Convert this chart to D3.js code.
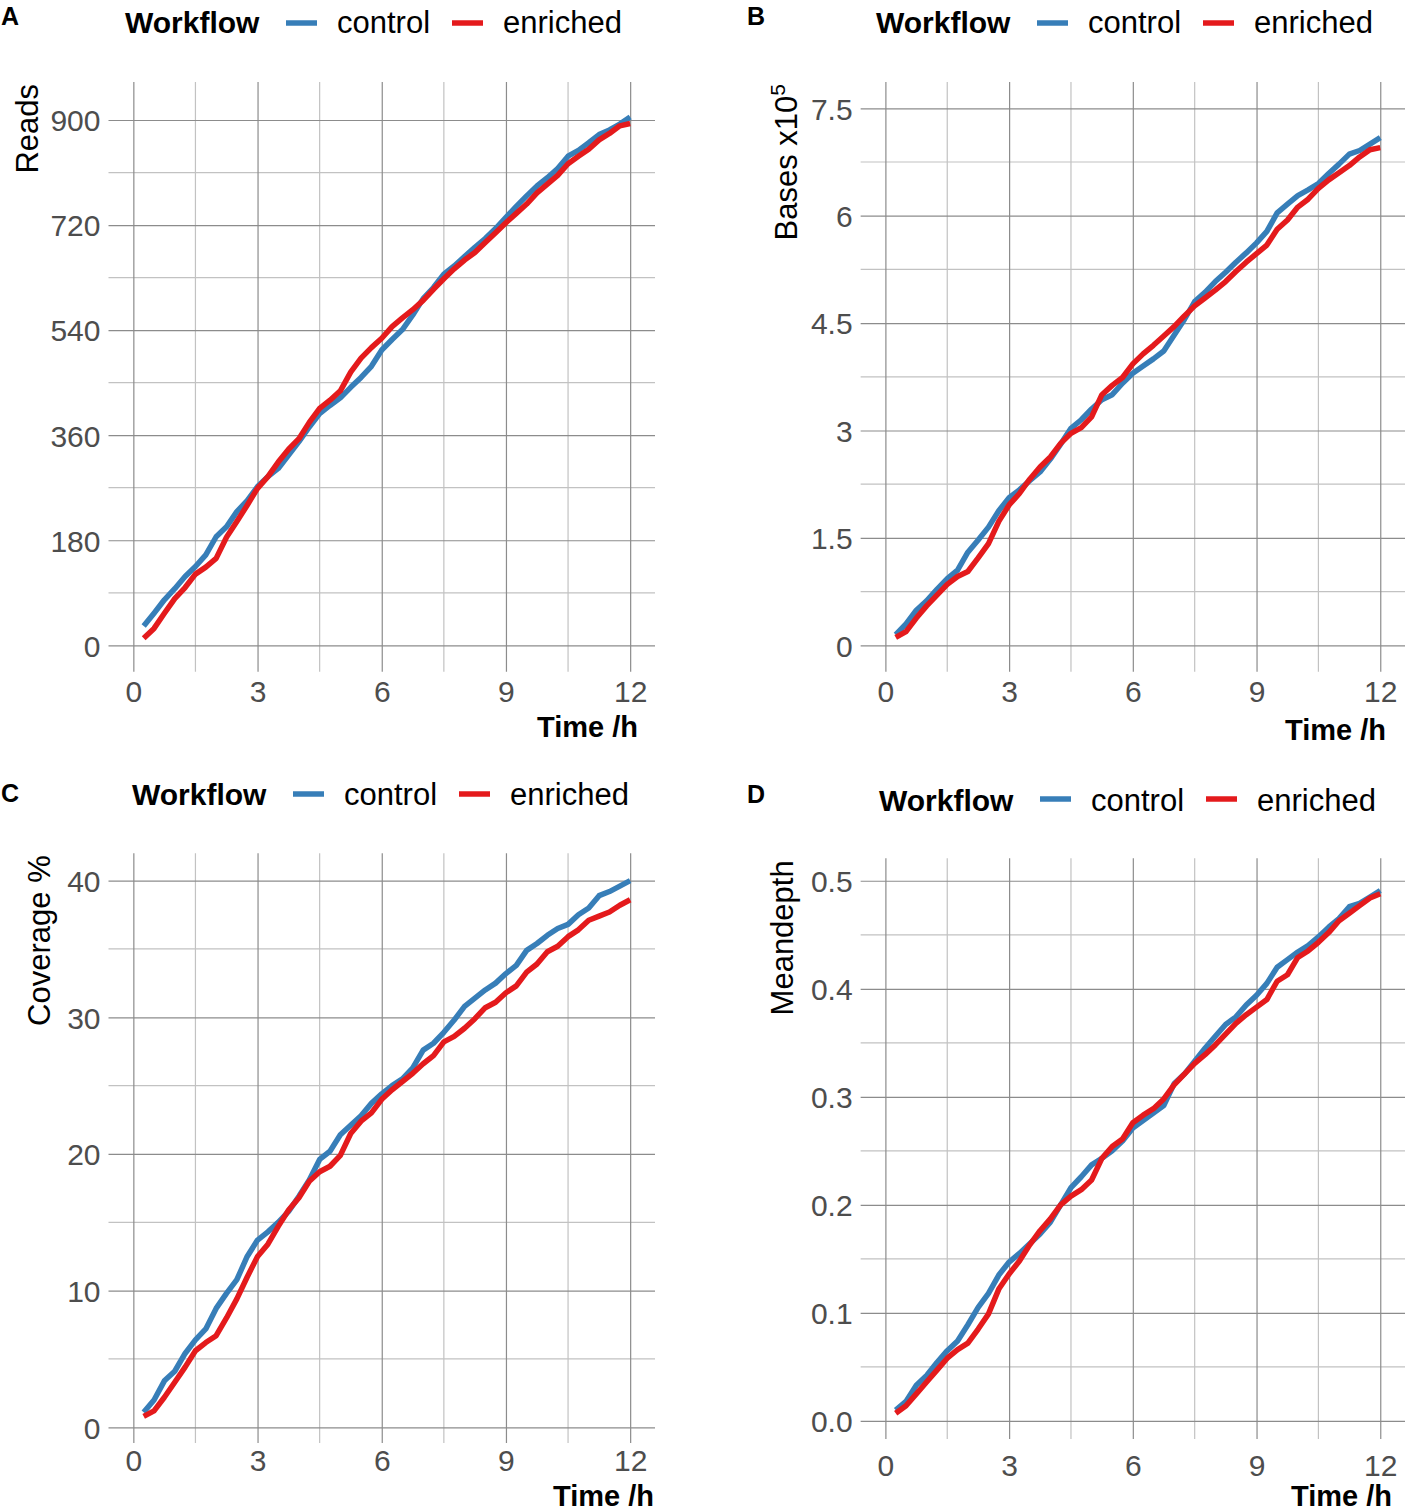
<!DOCTYPE html>
<html>
<head>
<meta charset="utf-8">
<script src="https://cdn.jsdelivr.net/npm/d3@7"></script>
<style>
  html, body { margin: 0; padding: 0; background: #fff; }
  svg { display: block; font-family: "Liberation Sans", Arial, Helvetica, sans-serif; }
  .tick text { fill: #4d4d4d; font-size: 30px; }
  .grid-major { stroke: #8c8c8c; stroke-width: 1.2; }
  .grid-minor { stroke: #c2c2c2; stroke-width: 1.2; }
  .series { fill: none; stroke-width: 5.5; stroke-linejoin: round; }
</style>
</head>
<body>
<svg id="chart" width="1409" height="1509"></svg>
<script>
// sampling times (h)
const times = [0.25, 0.5, 0.75, 1, 1.25, 1.5, 1.75, 2, 2.25, 2.5, 2.75, 3,
  3.25, 3.5, 3.75, 4, 4.25, 4.5, 4.75, 5, 5.25, 5.5, 5.75, 6,
  6.25, 6.5, 6.75, 7, 7.25, 7.5, 7.75, 8, 8.25, 8.5, 8.75, 9,
  9.25, 9.5, 9.75, 10, 10.25, 10.5, 10.75, 11, 11.25, 11.5, 11.75, 12]

const workflows = ['control', 'enriched']
const workflowColors = ['#377EB8', '#E41A1C']

// A: reads
const readsControl = [33, 55, 78, 97, 118, 135, 155, 186, 203, 229, 248, 272,
  289, 303, 326, 349, 374, 397, 411, 424, 442, 459, 478, 506,
  524, 541, 566, 594, 613, 636, 650, 666, 682, 697, 714, 733,
  752, 770, 787, 801, 817, 838, 848, 861, 875, 883, 893, 905]
const readsEnriched = [12, 29, 55, 80, 99, 122, 134, 149, 185, 212, 240, 269,
  289, 314, 336, 354, 382, 406, 420, 436, 468, 492, 510, 526,
  546, 561, 575, 591, 610, 628, 645, 660, 673, 690, 707, 724,
  740, 756, 775, 790, 805, 825, 838, 850, 866, 877, 890, 894]

// B: bases x10^5
const basesControl = [0.15, 0.30, 0.49, 0.62, 0.78, 0.93, 1.05, 1.30, 1.47, 1.65, 1.88, 2.06,
  2.17, 2.30, 2.42, 2.60, 2.81, 3.03, 3.15, 3.30, 3.43, 3.50, 3.66, 3.80,
  3.90, 4.00, 4.11, 4.33, 4.55, 4.80, 4.93, 5.08, 5.21, 5.35, 5.48, 5.62,
  5.78, 6.04, 6.16, 6.28, 6.36, 6.45, 6.59, 6.72, 6.86, 6.91, 7.00, 7.09]
const basesEnriched = [0.11, 0.19, 0.38, 0.55, 0.70, 0.85, 0.96, 1.03, 1.22, 1.42, 1.73, 1.96,
  2.12, 2.32, 2.49, 2.63, 2.82, 2.96, 3.04, 3.19, 3.50, 3.63, 3.74, 3.93,
  4.07, 4.19, 4.32, 4.45, 4.60, 4.74, 4.85, 4.96, 5.08, 5.22, 5.35, 5.47,
  5.59, 5.81, 5.94, 6.12, 6.23, 6.38, 6.50, 6.60, 6.70, 6.82, 6.92, 6.95]

// C: coverage %
const coverageControl = [1.1, 2.0, 3.4, 4.1, 5.4, 6.4, 7.2, 8.7, 9.8, 10.8, 12.5, 13.7,
  14.3, 15.0, 15.8, 16.9, 18.1, 19.6, 20.2, 21.4, 22.1, 22.8, 23.7, 24.4,
  25.0, 25.5, 26.3, 27.6, 28.1, 28.9, 29.8, 30.8, 31.4, 32.0, 32.5, 33.2,
  33.8, 34.9, 35.4, 36.0, 36.5, 36.8, 37.5, 38.0, 38.9, 39.2, 39.6, 40.0]
const coverageEnriched = [0.8, 1.2, 2.2, 3.3, 4.4, 5.6, 6.2, 6.7, 8.0, 9.4, 11.0, 12.5,
  13.4, 14.7, 15.9, 16.8, 18.0, 18.7, 19.1, 19.9, 21.5, 22.4, 23.0, 24.0,
  24.7, 25.3, 25.9, 26.6, 27.2, 28.2, 28.6, 29.2, 29.9, 30.7, 31.1, 31.8,
  32.3, 33.3, 33.9, 34.8, 35.2, 35.9, 36.4, 37.1, 37.4, 37.7, 38.2, 38.6]

// D: mean depth
const depthControl = [0.010, 0.018, 0.033, 0.042, 0.054, 0.065, 0.074, 0.089, 0.105, 0.118, 0.135, 0.147,
  0.155, 0.164, 0.173, 0.184, 0.200, 0.216, 0.226, 0.237, 0.243, 0.250, 0.259, 0.271,
  0.278, 0.285, 0.292, 0.312, 0.321, 0.333, 0.345, 0.356, 0.367, 0.374, 0.385, 0.394,
  0.405, 0.420, 0.427, 0.434, 0.440, 0.448, 0.457, 0.465, 0.476, 0.479, 0.485, 0.491]
const depthEnriched = [0.007, 0.014, 0.025, 0.036, 0.047, 0.058, 0.066, 0.072, 0.085, 0.099, 0.122, 0.136,
  0.148, 0.163, 0.176, 0.187, 0.200, 0.208, 0.214, 0.223, 0.243, 0.254, 0.261, 0.276,
  0.283, 0.289, 0.298, 0.311, 0.321, 0.331, 0.339, 0.348, 0.358, 0.368, 0.376, 0.383,
  0.390, 0.407, 0.413, 0.429, 0.435, 0.443, 0.452, 0.463, 0.470, 0.477, 0.484, 0.488]

// ticks
const timeTicks = [0, 3, 6, 9, 12]
const timeMinor = [1.5, 4.5, 7.5, 10.5]
const readsTicks = [0, 180, 360, 540, 720, 900]
const readsMinor = [90, 270, 450, 630, 810]
const basesTicks = [0, 1.5, 3, 4.5, 6, 7.5]
const basesMinor = [0.75, 2.25, 3.75, 5.25, 6.75]
const coverageTicks = [0, 10, 20, 30, 40]
const coverageMinor = [5, 15, 25, 35]
const depthTicks = [0, 0.1, 0.2, 0.3, 0.4, 0.5]
const depthMinor = [0.05, 0.15, 0.25, 0.35, 0.45]

const panels = [
  { tag: 'A', series: [readsControl, readsEnriched], yTicks: readsTicks, yMinor: readsMinor,
    fmt: d3.format('d'), yDomain: [-45.2, 965.1],
    left: 108.5, right: 655, top: 82, bottom: 671.7,
    tagPos: [1, 25], legendX: 125, legendBase: 33.3, keyY: 23,
    yTitle: 'Reads', yTitleX: 38, xLabelBase: 701.7, xTitle: [638, 737] },
  { tag: 'B', series: [basesControl, basesEnriched], yTicks: basesTicks, yMinor: basesMinor,
    fmt: d => String(d), yDomain: [-0.369, 7.867],
    left: 860.65, right: 1405, top: 82, bottom: 671.7,
    tagPos: [747, 25], legendX: 876, legendBase: 33.3, keyY: 23,
    yTitle: 'Bases x10', yTitleSup: '5', yTitleX: 797, xLabelBase: 701.7, xTitle: [1386, 740] },
  { tag: 'C', series: [coverageControl, coverageEnriched], yTicks: coverageTicks, yMinor: coverageMinor,
    fmt: d3.format('d'), yDomain: [-1.15, 42.0],
    left: 108.5, right: 655, top: 853.3, bottom: 1443,
    tagPos: [1, 802], legendX: 132, legendBase: 805, keyY: 794,
    yTitle: 'Coverage %', yTitleX: 50, xLabelBase: 1471, xTitle: [654, 1506] },
  { tag: 'D', series: [depthControl, depthEnriched], yTicks: depthTicks, yMinor: depthMinor,
    fmt: d3.format('.1f'), yDomain: [-0.0168, 0.5208],
    left: 860.65, right: 1405, top: 858.3, bottom: 1439,
    tagPos: [747, 803], legendX: 879, legendBase: 810.7, keyY: 799,
    yTitle: 'Meandepth', yTitleX: 793, xLabelBase: 1476, xTitle: [1392, 1506] }
]

const svg = d3.select('#chart')

panels.forEach(p => {
  const x = d3.scaleLinear().domain([-0.6, 12.6]).range([p.left, p.right])
  const y = d3.scaleLinear().domain(p.yDomain).range([p.bottom, p.top])
  const g = svg.append('g').attr('class', 'panel')

  // minor grid
  g.selectAll('.gy-minor').data(p.yMinor).join('line')
    .attr('class', 'grid-minor')
    .attr('x1', p.left).attr('x2', p.right)
    .attr('y1', d => y(d)).attr('y2', d => y(d))
  g.selectAll('.gx-minor').data(timeMinor).join('line')
    .attr('class', 'grid-minor')
    .attr('x1', d => x(d)).attr('x2', d => x(d))
    .attr('y1', p.top).attr('y2', p.bottom)

  // major grid + labels through the axes
  const yAxis = g.append('g')
    .attr('transform', `translate(${p.left},0)`)
    .call(d3.axisLeft(y).tickValues(p.yTicks).tickFormat(p.fmt)
      .tickSize(-(p.right - p.left)).tickPadding(8))
  const xAxis = g.append('g')
    .attr('transform', `translate(0,${p.bottom})`)
    .call(d3.axisBottom(x).tickValues(timeTicks).tickFormat(d3.format('d'))
      .tickSize(-(p.bottom - p.top)))
  ;[yAxis, xAxis].forEach(a => {
    a.select('.domain').remove()
    a.selectAll('.tick line').attr('class', 'grid-major')
    a.attr('font-size', null).attr('font-family', null)
  })
  yAxis.selectAll('.tick text').attr('dy', '0.36em')
  xAxis.selectAll('.tick text').attr('y', p.xLabelBase - p.bottom).attr('dy', 0)

  // series
  const line = d3.line().x((d, i) => x(times[i])).y(d => y(d))
  p.series.forEach((s, k) => {
    g.append('path').datum(s)
      .attr('class', 'series')
      .attr('stroke', workflowColors[k])
      .attr('d', line)
  })

  // axis titles
  const yt = g.append('text')
    .attr('transform', `translate(${p.yTitleX},${p.top + 2}) rotate(-90)`)
    .attr('text-anchor', 'end')
    .attr('font-size', 31)
    .attr('fill', '#000')
    .text(p.yTitle)
  if (p.yTitleSup) {
    yt.append('tspan').attr('font-size', 21).attr('dy', -12).text(p.yTitleSup)
  }
  g.append('text')
    .attr('x', p.xTitle[0]).attr('y', p.xTitle[1])
    .attr('text-anchor', 'end')
    .attr('font-size', 29).attr('font-weight', 'bold')
    .text('Time /h')

  // tag
  g.append('text')
    .attr('x', p.tagPos[0]).attr('y', p.tagPos[1])
    .attr('font-size', 25).attr('font-weight', 'bold')
    .text(p.tag)

  // legend
  const lg = g.append('g').attr('class', 'legend')
  lg.append('text')
    .attr('x', p.legendX).attr('y', p.legendBase)
    .attr('font-size', 30).attr('font-weight', 'bold')
    .text('Workflow')
  const keyOffsets = [161, 327]
  const labelOffsets = [212, 378]
  workflows.forEach((w, k) => {
    lg.append('line')
      .attr('x1', p.legendX + keyOffsets[k]).attr('x2', p.legendX + keyOffsets[k] + 31)
      .attr('y1', p.keyY).attr('y2', p.keyY)
      .attr('stroke', workflowColors[k]).attr('stroke-width', 5.5)
    lg.append('text')
      .attr('x', p.legendX + labelOffsets[k]).attr('y', p.legendBase)
      .attr('font-size', 31)
      .text(w)
  })
})
</script>
</body>
</html>
